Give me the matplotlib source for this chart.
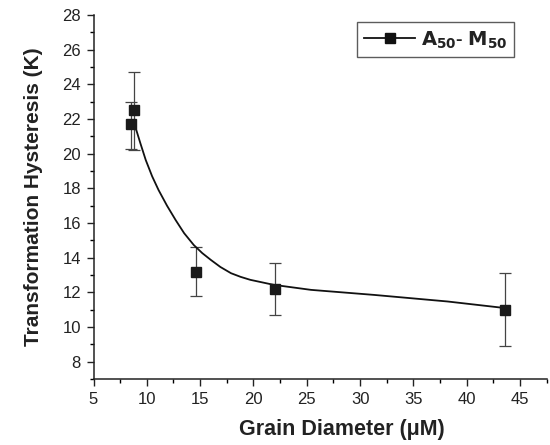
import matplotlib
matplotlib.use("Agg")
import matplotlib.pyplot as plt
from matplotlib.ticker import MultipleLocator
from matplotlib.lines import Line2D

plt.rcParams['font.family'] = ['Liberation Sans', 'DejaVu Sans']

# Measured data points
grain_d = [8.5, 8.8, 14.6, 22.0, 43.6]
hyst = [21.7, 22.5, 13.2, 12.2, 11.0]
err_low = [20.3, 20.2, 11.8, 10.7, 8.9]
err_high = [23.0, 24.7, 14.6, 13.7, 13.1]

# Fitted curve
curve_x = [8.87, 9.4, 9.9, 10.5, 11.1, 11.9, 12.7, 13.5, 14.4, 15.2, 16.0, 16.9,
           17.9, 18.8, 19.7, 21.9, 25.4, 31.3, 38.2, 43.6]
curve_y = [21.66, 20.6, 19.64, 18.7, 17.91, 17.0, 16.18, 15.42, 14.74, 14.27, 13.88, 13.47,
           13.11, 12.9, 12.73, 12.44, 12.15, 11.86, 11.48, 11.1]

legend_label = r'$\mathbf{A_{50}}$- $\mathbf{M_{50}}$'

fig = plt.figure(figsize=(5.5, 4.45), dpi=100)
ax = fig.add_axes([0.170, 0.148, 0.824, 0.818])

yerr = [[h - l for h, l in zip(hyst, err_low)], [u - h for h, u in zip(hyst, err_high)]]
ax.errorbar(grain_d, hyst, yerr=yerr, fmt='none', ecolor='#444444', elinewidth=0.9,
            capsize=4.5, capthick=0.9, zorder=2)
ax.plot(grain_d, hyst, linestyle='none', marker='s', markersize=6.5, color='#1a1a1a', zorder=3)
ax.plot(curve_x, curve_y, color='#111111', linewidth=1.3, zorder=2)

ax.set_xlim(5, 47.5)
ax.set_ylim(7, 28)
ax.xaxis.set_major_locator(MultipleLocator(5))
ax.xaxis.set_minor_locator(MultipleLocator(2.5))
ax.yaxis.set_major_locator(MultipleLocator(2))
ax.yaxis.set_minor_locator(MultipleLocator(1))
ax.tick_params(which='major', direction='out', length=5, width=1, labelsize=12,
               colors='#222222', pad=4)
ax.tick_params(which='minor', direction='out', length=3, width=1)
for s in ['top', 'right']:
    ax.spines[s].set_visible(False)
for s in ['left', 'bottom']:
    ax.spines[s].set_linewidth(1.1)
    ax.spines[s].set_color('#222222')

ax.set_xlabel('Grain Diameter (\u03bcM)', fontsize=15.5, fontweight='bold', labelpad=9,
              color='#222222')
ax.xaxis.label.set_x(0.548)
ax.set_ylabel('Transformation Hysteresis (K)', fontsize=15, fontweight='bold', labelpad=14,
              color='#222222')

handle = Line2D([], [], color='#111111', linewidth=1.3, marker='s', markersize=6.5)
leg = ax.legend([handle], [legend_label], loc='upper right', bbox_to_anchor=(0.928, 0.98),
                fontsize=14, frameon=True, fancybox=False, edgecolor='#333333',
                handlelength=2.6, numpoints=1, borderpad=0.35, handletextpad=0.3,
                borderaxespad=0)
leg.get_frame().set_linewidth(1.0)
for t in leg.get_texts():
    t.set_fontweight('bold')
    t.set_color('#222222')

fig.savefig('out.png', dpi=100)
